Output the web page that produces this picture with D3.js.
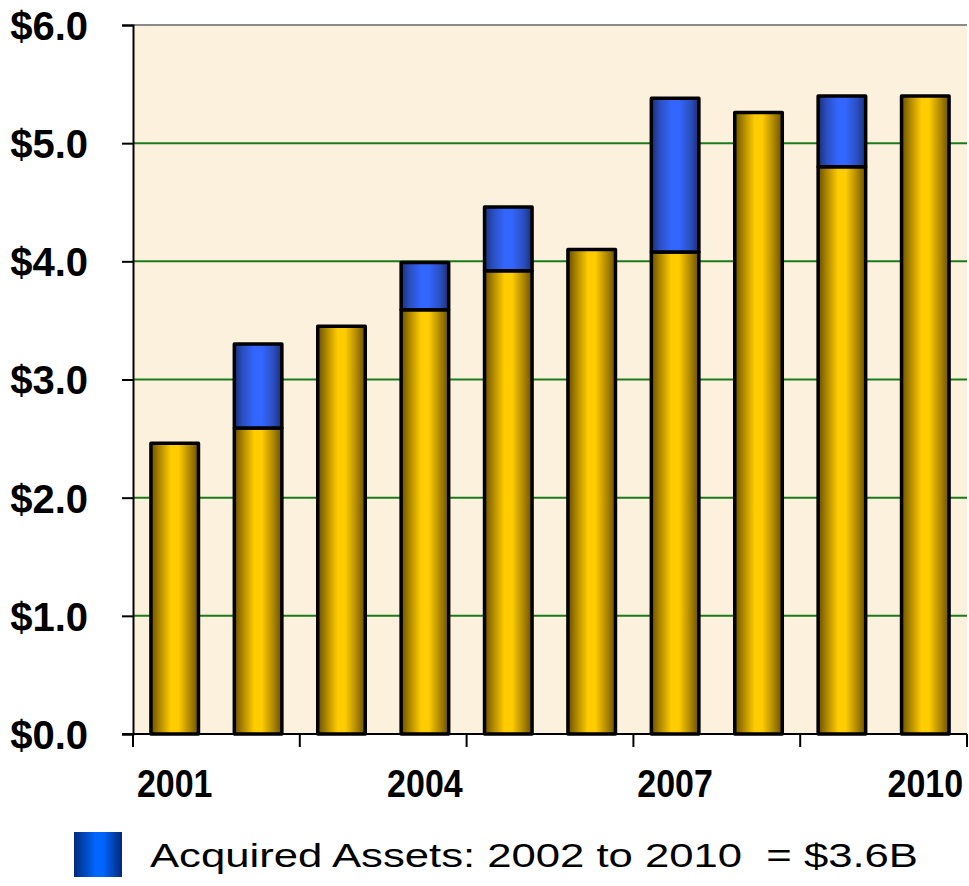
<!DOCTYPE html>
<html><head><meta charset="utf-8">
<script src="https://cdn.jsdelivr.net/npm/d3@7"></script>
<style>html,body{margin:0;padding:0;background:#fff;}svg{display:block;}</style>
</head><body>
<svg id="chart" width="969" height="886"></svg>
<script>
const years = ["2001","2002","2003","2004","2005","2006","2007","2008","2009","2010"];
const baseValues = [2.46, 2.59, 3.45, 3.59, 3.92, 4.10, 4.08, 5.26, 4.80, 5.40];
const acquiredValues = [0, 0.71, 0, 0.40, 0.54, 0, 1.30, 0, 0.60, 0];
const yTicks = [0, 1, 2, 3, 4, 5, 6];
const xLabelYears = ["2001","2004","2007","2010"];
const legendText = "Acquired Assets: 2002 to 2010 \u00A0= $3.6B";

(function () {
const svg = d3.select("#chart");
const mLeft = 133, mRight = 967, mTop = 25, mBottom = 734;
const font = "'Liberation Sans', Arial, Helvetica, sans-serif";

const x = d3.scaleBand().domain(years).range([mLeft, mRight]).paddingInner(0.43).paddingOuter(0.215);
const y = d3.scaleLinear().domain([0, 6]).range([mBottom, mTop]);

const defs = svg.append("defs");
function hGrad(id, stops) {
  const g = defs.append("linearGradient").attr("id", id).attr("x1", "0%").attr("x2", "100%").attr("y1", "0%").attr("y2", "0%");
  stops.forEach(s => g.append("stop").attr("offset", s[0]).attr("stop-color", s[1]));
}
hGrad("gold", [["0%", "#6a4f00"], ["18%", "#ad8700"], ["42%", "#ffcc00"], ["58%", "#ffcc00"], ["82%", "#ad8700"], ["100%", "#6a4f00"]]);
hGrad("blue", [["0%", "#1a2f78"], ["18%", "#2a4fc0"], ["42%", "#3366ff"], ["58%", "#3366ff"], ["82%", "#2a4fc0"], ["100%", "#1a2f78"]]);
hGrad("legblue", [["0%", "#002a7a"], ["45%", "#0066ff"], ["60%", "#0066ff"], ["100%", "#00297a"]]);

svg.append("rect").attr("x", mLeft).attr("y", mTop).attr("width", mRight - mLeft).attr("height", mBottom - mTop).attr("fill", "#fcf1dc");

svg.append("g").selectAll("line").data(yTicks.filter(d => d > 0 && d < 6)).join("line")
  .attr("x1", mLeft).attr("x2", mRight).attr("y1", d => y(d)).attr("y2", d => y(d))
  .attr("stroke", "#1b7a1b").attr("stroke-width", 2);
svg.append("line").attr("x1", mLeft).attr("x2", mRight).attr("y1", y(6)).attr("y2", y(6))
  .attr("stroke", "#8a8a8a").attr("stroke-width", 2);

const bars = svg.append("g");
years.forEach((yr, i) => {
  const bx = x(yr), bw = x.bandwidth();
  bars.append("rect").attr("x", bx).attr("y", y(baseValues[i])).attr("width", bw)
    .attr("height", y(0) - y(baseValues[i]))
    .attr("fill", "url(#gold)").attr("stroke", "#000").attr("stroke-width", 3.5).attr("stroke-linejoin", "round");
  if (acquiredValues[i] > 0) {
    const t = baseValues[i] + acquiredValues[i];
    bars.append("rect").attr("x", bx).attr("y", y(t)).attr("width", bw)
      .attr("height", y(baseValues[i]) - y(t))
      .attr("fill", "url(#blue)").attr("stroke", "#000").attr("stroke-width", 3.5).attr("stroke-linejoin", "round");
  }
});

const yAxis = svg.append("g").attr("transform", `translate(${mLeft},0)`)
  .call(d3.axisLeft(y).tickValues(yTicks).tickSize(11).tickPadding(0).tickFormat(d => "$" + d3.format(".1f")(d)));
yAxis.select(".domain").attr("stroke", "#000").attr("stroke-width", 2);
yAxis.selectAll(".tick line").attr("stroke", "#000").attr("stroke-width", 2);
yAxis.selectAll(".tick text").attr("x", -45).attr("dy", "0.36em")
  .attr("font-family", font).attr("font-weight", "bold").attr("font-size", 40).attr("fill", "#000").attr("text-anchor", "end");

const xTickPos = d3.range(0, years.length + 1, 2).map(i => mLeft + i * x.step());
const xg = svg.append("g");
xg.append("line").attr("x1", mLeft - 11).attr("x2", mRight).attr("y1", mBottom).attr("y2", mBottom).attr("stroke", "#000").attr("stroke-width", 2);
xg.selectAll("line.tk").data(xTickPos).join("line").attr("class", "tk")
  .attr("x1", d => d).attr("x2", d => d).attr("y1", mBottom).attr("y2", mBottom + 13)
  .attr("stroke", "#000").attr("stroke-width", 2);
xg.selectAll("text").data(xLabelYears).join("text")
  .attr("transform", d => `translate(${x(d) + x.bandwidth() / 2},797) scale(1,1.12)`)
  .attr("text-anchor", "middle").attr("font-family", font).attr("font-weight", "bold").attr("font-size", 34).attr("fill", "#000")
  .text(d => d);

svg.append("rect").attr("x", 74).attr("y", 832).attr("width", 48).attr("height", 45).attr("fill", "url(#legblue)");
svg.append("text").attr("x", 150).attr("y", 867).attr("font-family", font).attr("font-size", 34).attr("fill", "#000")
  .attr("textLength", 768).attr("lengthAdjust", "spacingAndGlyphs")
  .text(legendText);
})();
</script>
</body></html>
